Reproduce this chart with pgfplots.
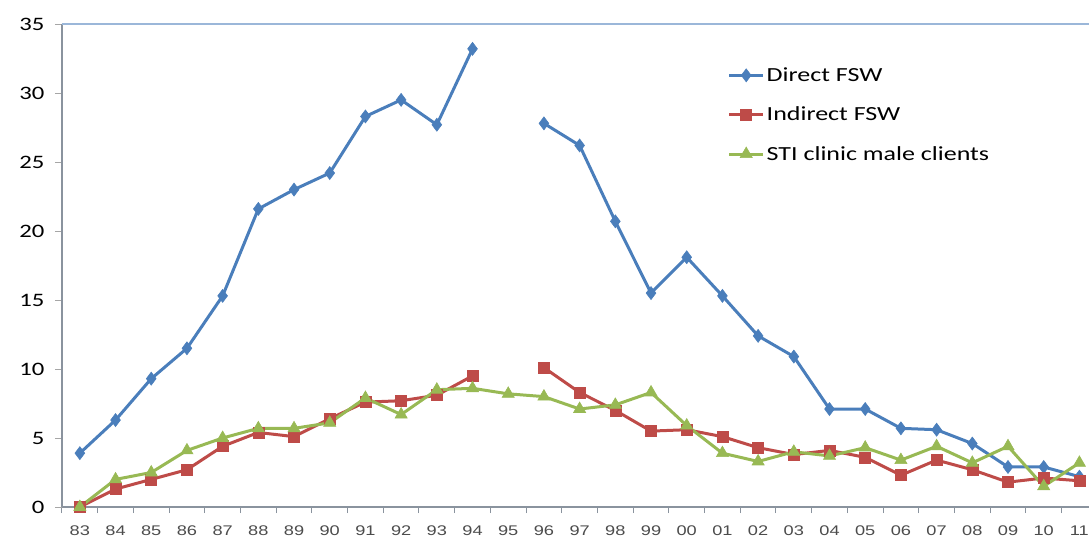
\documentclass[border=0pt]{standalone}
\usepackage{pgfplots}
\pgfplotsset{compat=1.18}
\usepackage{fontspec}
\setmainfont{Carlito}
\newfontfamily\legfont[FakeStretch=1.3]{Carlito}
\newfontfamily\arialfont[FakeStretch=1.3]{Liberation Sans}

\definecolor{cblue}{HTML}{4A7EBB}
\definecolor{cred}{HTML}{BE4B48}
\definecolor{cgreen}{HTML}{98B954}
\definecolor{axgray}{HTML}{8A939E}
\definecolor{topline}{HTML}{9BB7D9}

% x: 0 = 1983 ... 28 = 2011, nan = no value
\pgfplotstableread{
x direct indirect sti
0  3.9   0.0  0.0
1  6.3   1.3  2.0
2  9.3   2.0  2.5
3  11.5  2.7  4.1
4  15.3  4.4  5.0
5  21.6  5.4  5.7
6  23.0  5.1  5.7
7  24.2  6.4  6.1
8  28.3  7.6  7.9
9  29.5  7.7  6.7
10 27.7  8.1  8.5
11 33.2  9.5  8.6
12 nan   nan  8.2
13 27.8  10.1 8.0
14 26.2  8.3  7.1
15 20.7  7.0  7.4
16 15.5  5.5  8.3
17 18.1  5.6  5.9
18 15.3  5.1  3.9
19 12.4  4.3  3.3
20 10.9  3.8  4.0
21 7.1   4.1  3.7
22 7.1   3.6  4.3
23 5.7   2.3  3.4
24 5.6   3.4  4.4
25 4.6   2.7  3.2
26 2.9   1.8  4.4
27 2.9   2.1  1.5
28 2.2   1.9  3.2
}\datatab

\begin{document}
\begin{tikzpicture}
\path[use as bounding box] (-62pt,-32pt) rectangle (1027pt,507pt);
\begin{axis}[
    at={(0pt,0pt)}, anchor=south west,
    scale only axis,
    width=1027pt, height=483pt,
    xmin=-0.5, xmax=28.27,
    ymin=0, ymax=35,
    axis x line*=bottom,
    axis y line*=left,
    x axis line style={draw=axgray, line width=1.5pt, -},
    y axis line style={draw=axgray, line width=1.5pt, -},
    xtick={0,...,28},
    xticklabels={83,84,85,86,87,88,89,90,91,92,93,94,95,96,97,98,99,00,01,02,03,04,05,06,07,08,09,10,11},
    minor xtick={-0.5,0.5,...,28.5},
    major x tick style={draw=none},
    minor x tick style={draw=axgray, line width=1pt},
    minor tick length=6pt,
    xticklabel style={font=\arialfont\fontsize{14}{14}\selectfont, text=black!70, yshift=-8pt},
    ytick={0,5,...,35},
    y tick style={draw=black!35, line width=1pt},
    major tick length=7pt,
    tick align=outside,
    yticklabel style={font=\legfont\fontsize{19}{19}\selectfont, xshift=-7pt},
    /pgf/number format/assume math mode=true,
    clip=false,
    unbounded coords=jump,
    legend style={
        at={(0.648,0.914)}, anchor=north west,
        draw=none, fill=none,
        font=\legfont\fontsize{20}{20}\selectfont,
        row sep=20pt,
        inner sep=0pt,
    },
    legend cell align=left,
    legend image code/.code={
        \draw[#1, mark repeat=2, mark phase=2] plot coordinates {(0pt,0pt) (17pt,0pt) (34pt,0pt)};
    },
]
\draw[topline, line width=1.5pt] (rel axis cs:0,1) -- (rel axis cs:1,1);
\addplot[cblue, line width=3pt, mark=diamond*, mark size=6.5pt,
    mark options={solid, line width=0.6pt}] table[x=x, y=direct] {\datatab};
\addlegendentry{Direct FSW}
\addplot[cred, line width=3pt, mark=square*, mark size=5.5pt,
    mark options={solid, line width=0.6pt}] table[x=x, y=indirect] {\datatab};
\addlegendentry{Indirect FSW}
\addplot[cgreen, line width=3pt, mark=triangle*, mark size=7pt,
    mark options={solid, line width=0.6pt}] table[x=x, y=sti] {\datatab};
\addlegendentry{STI clinic male clients}
\end{axis}
\end{tikzpicture}
\end{document}
